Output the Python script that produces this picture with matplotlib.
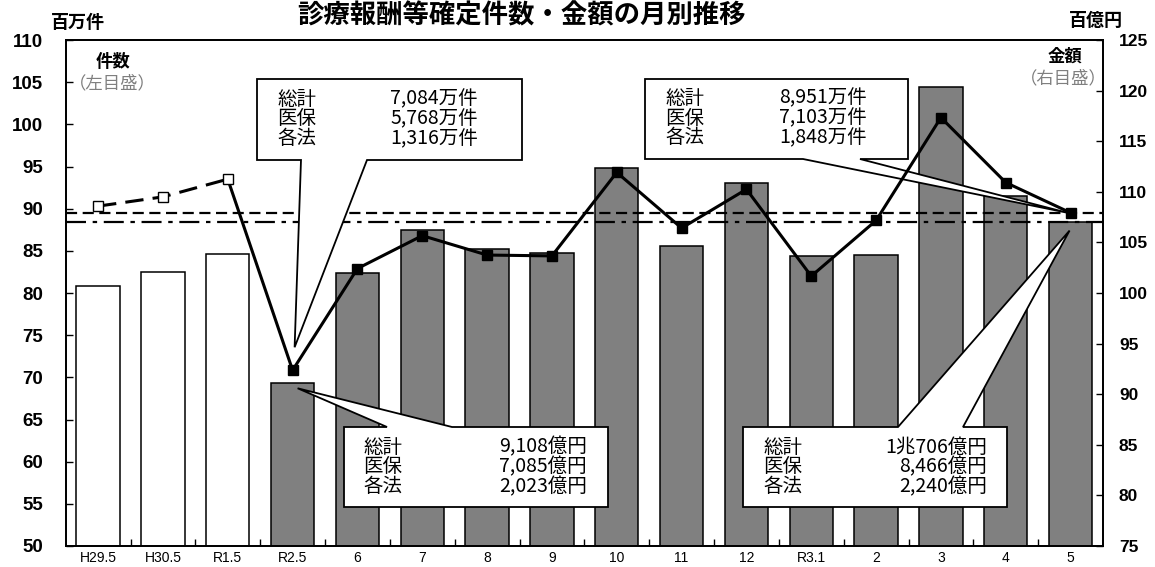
import matplotlib
matplotlib.use("Agg")
import matplotlib.pyplot as plt
import numpy as np
from matplotlib.patches import Polygon
from matplotlib.transforms import Affine2D

plt.rcParams['font.family'] = ['Noto Sans CJK JP', 'DejaVu Sans']

# ---- data ----
categories = ["H29.5", "H30.5", "R1.5", "R2.5", "6", "7", "8", "9", "10", "11",
              "12", "R3.1", "2", "3", "4", "5"]
amount = [100.7, 102.1, 103.9, 91.08, 102.0, 106.2, 104.3, 104.0, 112.4, 104.6,
          110.9, 103.7, 103.8, 120.4, 109.6, 107.06]          # 百億円 (right axis, bars)
count = [90.3, 91.4, 93.5, 70.84, 82.9, 86.8, 84.5, 84.4, 94.3, 87.7,
         92.3, 82.0, 88.6, 100.8, 93.1, 89.51]                 # 百万件 (left axis, line)
n_past = 3
left_ticks = [50, 55, 60, 65, 70, 75, 80, 85, 90, 95, 100, 105, 110]
right_ticks = [75, 80, 85, 90, 95, 100, 105, 110, 115, 120, 125]

box_labels = ["総計", "医保", "各法"]
box_count_r2 = ["7,084万件", "5,768万件", "1,316万件"]
box_count_now = ["8,951万件", "7,103万件", "1,848万件"]
box_amt_r2 = ["9,108億円", "7,085億円", "2,023億円"]
box_amt_now = ["1兆706億円", "8,466億円", "2,240億円"]

W, H = 1155, 567
fig = plt.figure(figsize=(W / 100, H / 100), dpi=100)
fig.patch.set_facecolor('white')
rect = [65.7 / W, 1 - 546 / H, (1103 - 65.7) / W, (546 - 40) / H]
ax = fig.add_axes(rect)          # bars, right scale
ax2 = ax.twinx()                 # line, left scale

x = np.arange(len(categories))
n = len(categories)

# bars
colors = ['white'] * n_past + ['#808080'] * (n - n_past)
ax.bar(x, amount, width=0.67, color=colors, edgecolor='black', linewidth=1.1, zorder=2)
ax.set_ylim(75, 125)
ax.set_xlim(-0.5, n - 0.5)
ax.axhline(amount[-1], color='black', lw=1.6, ls=(0, (9, 3, 2, 3)), zorder=3)

ax2.set_ylim(50, 110)
ax2.axhline(count[-1], color='black', lw=1.6, ls=(0, (5, 2.5)), zorder=2)

# line
ax2.plot(x[:n_past], count[:n_past], color='black', lw=2.2, ls=(0, (6, 3)), zorder=5)
ax2.plot(x[n_past - 1:], count[n_past - 1:], color='black', lw=2.2, zorder=5)
ax2.plot(x[:n_past], count[:n_past], ls='none', marker='s', ms=7, mfc='white',
         mec='black', mew=1.0, zorder=6)
ax2.plot(x[n_past:], count[n_past:], ls='none', marker='s', ms=7, mfc='black',
         mec='black', zorder=6)

# axes styling
for a in (ax, ax2):
    for s in a.spines.values():
        s.set_linewidth(1.3)
ax.yaxis.tick_right()
ax2.yaxis.tick_left()
ax.set_yticks(right_ticks)
ax2.set_yticks(left_ticks)
ax.tick_params(axis='y', direction='in', length=5, width=1, pad=11.5, labelsize=12.5,
               right=True, left=False, labelright=True, labelleft=False)
ax2.tick_params(axis='y', direction='in', length=5, width=1, pad=16, labelsize=13.5,
                left=True, right=False, labelleft=True, labelright=False)
for lab in ax.get_yticklabels() + ax2.get_yticklabels():
    lab.set_fontfamily('Liberation Sans')
    lab.set_fontweight('bold')

ax.set_xticks(x)
ax.set_xticklabels(categories, fontfamily='Liberation Sans', fontsize=10)
ax.set_xticks(np.arange(0.5, n - 1, 1), minor=True)
ax.tick_params(axis='x', which='major', length=0, pad=3.5)
ax.tick_params(axis='x', which='minor', direction='in', length=5, width=1)

# ---- callouts (placed in pixel coordinates, tips from data) ----
pix = Affine2D().scale(1, -1).translate(0, H)


def to_pix(axes, xv, yv):
    d = axes.transData.transform((xv, yv))
    return d[0], H - d[1]


def callout(box, base, tip, side, values, lab_x, val_x, mid_y):
    x0, y0, x1, y1 = box
    b0, b1 = base
    if side == 'bottom':
        verts = [(x0, y0), (x1, y0), (x1, y1), (b1, y1), tip, (b0, y1), (x0, y1)]
    else:
        verts = [(x0, y0), (b0, y0), tip, (b1, y0), (x1, y0), (x1, y1), (x0, y1)]
    poly = Polygon(verts, closed=True, transform=pix, facecolor='white',
                   edgecolor='black', lw=1.3, clip_on=False, zorder=3)
    ax2.add_patch(poly)
    ax2.text(lab_x, mid_y, "\n".join(box_labels), transform=pix, ha='left',
             va='center', fontsize=14, linespacing=0.93, zorder=4, clip_on=False)
    ax2.text(val_x, mid_y, "\n".join(values), transform=pix, ha='right',
             va='center', fontsize=14, linespacing=0.93, zorder=4, clip_on=False,
             multialignment='right')


px, py = to_pix(ax2, 3, count[3])
callout((257, 79, 522, 160), (301, 367), (px + 2, py - 23), 'bottom',
        box_count_r2, 277, 478, 119)
px, py = to_pix(ax2, n - 1, count[-1])
callout((645, 79, 908, 159), (803, 860), (px - 3, py), 'bottom',
        box_count_now, 665, 867, 118)
px, py = to_pix(ax, 3, amount[3])
callout((344, 427, 608, 507), (387, 452), (px + 5, py + 5), 'top',
        box_amt_r2, 363, 587, 467)
px, py = to_pix(ax, n - 1, amount[-1])
callout((743, 427, 1007, 507), (898, 963), (px - 1, py + 9), 'top',
        box_amt_now, 763, 987, 467)

# ---- texts ----
fig.text(521 / W, 1 - 16 / H, "診療報酬等確定件数・金額の月別推移", ha='center', va='center',
         fontsize=19, fontweight='bold')
fig.text(78 / W, 1 - 22 / H, "百万件", ha='center', va='center', fontsize=13, fontweight='bold')
fig.text(1096 / W, 1 - 20 / H, "百億円", ha='center', va='center', fontsize=13, fontweight='bold')
fig.text(113.5 / W, 1 - 62 / H, "件数", ha='center', va='center', fontsize=12.5, fontweight='bold')
fig.text(112.5 / W, 1 - 83 / H, "（左目盛）", ha='center', va='center', fontsize=12.5,
         color='#7f7f7f')
fig.text(1064.5 / W, 1 - 57 / H, "金額", ha='center', va='center', fontsize=12.5, fontweight='bold')
fig.text(1063.5 / W, 1 - 78 / H, "（右目盛）", ha='center', va='center', fontsize=12.5,
         color='#7f7f7f')

fig.savefig("out.png", dpi=100)
